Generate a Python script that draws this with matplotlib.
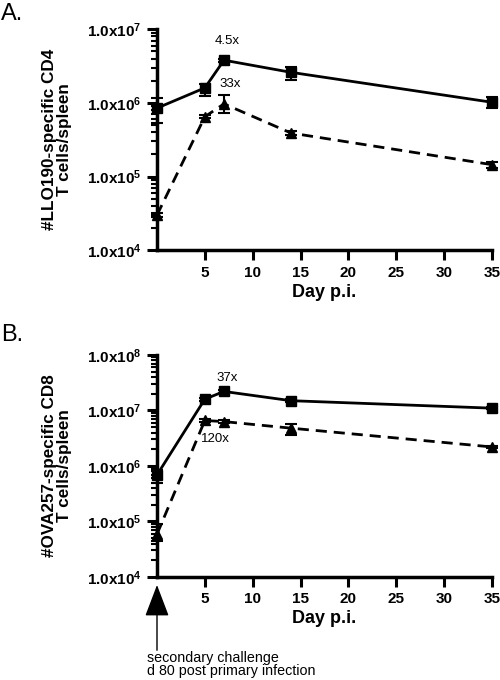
import matplotlib
matplotlib.use('Agg')
import matplotlib.pyplot as plt
import numpy as np

plt.rcParams['font.family'] = ['Liberation Sans', 'DejaVu Sans']
plt.rcParams['mathtext.fontset'] = 'custom'
plt.rcParams['mathtext.rm'] = 'Liberation Sans'
plt.rcParams['mathtext.bf'] = 'Liberation Sans:bold'

# data
days = [0, 5, 7, 14, 35]

a_sq = [8.5e5, 1.6e6, 3.8e6, 2.6e6, 1.02e6]
a_sq_lo = [5.4e5, 1.25e6, 3.6e6, 2.05e6, 8.6e5]
a_sq_hi = [1.17e6, 1.8e6, 4.0e6, 3.1e6, 1.2e6]
a_tri = [3.0e4, 6.5e5, 9.7e5, 3.9e5, 1.45e5]
a_tri_lo = [2.8e4, 6.2e5, 7.3e5, 3.7e5, 1.3e5]
a_tri_hi = [3.2e4, 6.8e5, 1.28e6, 4.1e5, 1.6e5]

b_sq = [6.9e5, 1.6e7, 2.2e7, 1.5e7, 1.1e7]
b_sq_lo = [5.0e5, 1.5e7, 2.1e7, 1.4e7, 1.05e7]
b_sq_hi = [8.5e5, 1.7e7, 2.3e7, 1.6e7, 1.15e7]
b_tri = [5.9e4, 6.6e6, 6.3e6, 4.8e6, 2.2e6]
b_tri_lo = [4.5e4, 6.3e6, 6.0e6, 3.6e6, 2.1e6]
b_tri_hi = [9.0e4, 6.9e6, 6.6e6, 5.8e6, 2.3e6]

xticks = [5, 10, 15, 20, 25, 30, 35]


def draw_panel(ax, sq, sq_lo, sq_hi, tri, tri_lo, tri_hi, ylims, ylab):
    sq = np.array(sq); tri = np.array(tri)
    ax.errorbar(days, sq, yerr=[sq - np.array(sq_lo), np.array(sq_hi) - sq],
                fmt='-s', color='black', lw=2, ms=7, capsize=4, elinewidth=1.5,
                capthick=1.5, clip_on=False, zorder=3)
    ax.errorbar(days, tri, yerr=[tri - np.array(tri_lo), np.array(tri_hi) - tri],
                fmt='^', ls=(0, (4, 2.5)), color='black', lw=2, ms=7, capsize=4,
                elinewidth=1.5, capthick=1.5, clip_on=False, zorder=3)
    ax.set_yscale('log')
    ax.set_xlim(0, 35)
    ax.set_ylim(ylims)
    ax.set_xticks(xticks)
    ax.set_xticklabels([str(t) for t in xticks], fontweight='bold', fontsize=11)
    exps = range(int(np.log10(ylims[0])), int(np.log10(ylims[1])) + 1)
    ax.set_yticks([10.0 ** e for e in exps])
    ax.set_yticklabels([r'$\mathbf{1.0x10^{%d}}$' % e for e in exps], fontsize=11)
    ax.yaxis.set_minor_locator(matplotlib.ticker.LogLocator(base=10, subs=np.arange(2, 10)))
    ax.yaxis.set_minor_formatter(matplotlib.ticker.NullFormatter())
    ax.tick_params(axis='both', which='major', length=7, width=2.2, pad=4)
    ax.tick_params(axis='y', which='minor', length=4, width=1.5)
    for s in ['top', 'right']:
        ax.spines[s].set_visible(False)
    for s in ['left', 'bottom']:
        ax.spines[s].set_linewidth(2.5)
    ax.set_xlabel('Day p.i.', fontweight='bold', fontsize=13, labelpad=3)
    ax.set_ylabel(ylab, fontweight='bold', fontsize=12.3, linespacing=1.0)
    ax.yaxis.set_label_coords(-0.255, 0.5)


fig = plt.figure(figsize=(5, 6.8), dpi=100)
axA = fig.add_axes([0.314, 0.632, 0.67, 0.325])
axB = fig.add_axes([0.314, 0.1515, 0.67, 0.3265])

draw_panel(axA, a_sq, a_sq_lo, a_sq_hi, a_tri, a_tri_lo, a_tri_hi, (1e4, 1e7),
           '#LLO190-specific CD4\nT cells/spleen')
draw_panel(axB, b_sq, b_sq_lo, b_sq_hi, b_tri, b_tri_lo, b_tri_hi, (1e4, 1e8),
           '#OVA257-specific CD8\nT cells/spleen')

axA.text(7.3, 7.0e6, '4.5x', ha='center', va='center', fontsize=9.5)
axA.text(7.6, 1.8e6, '33x', ha='center', va='center', fontsize=9.5)
axB.text(7.3, 3.9e7, '37x', ha='center', va='center', fontsize=9.5)
axB.text(6.1, 3.0e6, '120x', ha='center', va='center', fontsize=9.5)

fig.text(0.002, 0.995, 'A.', fontsize=17, va='top', ha='left')
fig.text(0.002, 1 - 324 / 680, 'B.', fontsize=17, va='top', ha='left')

axB.annotate('', xy=(0, -0.036), xycoords='axes fraction',
             xytext=(0, -0.33), textcoords='axes fraction',
             arrowprops=dict(arrowstyle='-|>,head_length=1.0,head_width=0.38',
                             mutation_scale=20, color='black', lw=1,
                             shrinkA=0, shrinkB=0))
fig.text(147 / 500, 1 - 651 / 680, 'secondary challenge\nd 80 post primary infection',
         fontsize=10.3, va='top', ha='left', linespacing=0.95)

fig.savefig('out.png', dpi=100)
